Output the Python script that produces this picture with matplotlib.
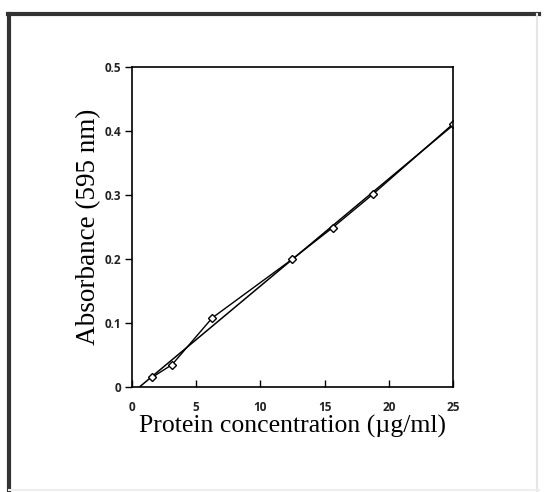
import numpy as np
import matplotlib
matplotlib.use("Agg")
import matplotlib.pyplot as plt
from matplotlib.lines import Line2D

# protein standard curve (Bradford)
conc = [1.5625, 3.125, 6.25, 12.5, 15.625, 18.75, 25]
absorb = [0.015, 0.035, 0.108, 0.200, 0.249, 0.301, 0.411]
xticks = [0, 5, 10, 15, 20, 25]
yticks = [0, 0.1, 0.2, 0.3, 0.4, 0.5]
ytick_labels = ["0", "0.1", "0.2", "0.3", "0.4", "0.5"]

fig = plt.figure(figsize=(5.44, 4.92), dpi=100)

# scanned frame around figure
fig.add_artist(Line2D([0.017, 0.017], [0.0, 0.972], color="#333333", lw=3.0))
fig.add_artist(Line2D([0.015, 0.99], [0.972, 0.972], color="#333333", lw=3.0))
fig.add_artist(Line2D([0.987, 0.987], [0.0, 0.972], color="#e6e6e6", lw=1.5))
fig.add_artist(Line2D([0.017, 0.99], [0.004, 0.004], color="#eeeeee", lw=1.5))

ax = fig.add_axes([0.2426, 0.2134, 0.5901, 0.6504])

# least squares line
slope, icpt = np.polyfit(conc, absorb, 1)
x0 = -icpt / slope
xf = np.array([x0, conc[-1]])
ax.plot(xf, slope * xf + icpt, color="black", lw=1.1)

ax.plot(conc, absorb, color="black", lw=1.0, marker="D", markersize=4.5,
        markerfacecolor="white", markeredgecolor="black", markeredgewidth=1.0)

ax.set_xlim(0, 25)
ax.set_ylim(0, 0.5)
ax.set_xticks(xticks)
ax.set_yticks(yticks)
ax.set_yticklabels(ytick_labels)
for s in ax.spines.values():
    s.set_linewidth(1.2)
ax.tick_params(axis="x", direction="in", length=5, width=1.0, pad=10)
ax.tick_params(axis="y", direction="out", length=5, width=1.0, pad=3)
for lab in ax.get_xticklabels() + ax.get_yticklabels():
    lab.set_fontfamily("Open Sans")
    lab.set_fontweight("bold")
    lab.set_fontsize(8.5)
    lab.set_color("#222222")

ax.set_xlabel("Protein concentration (\u00b5g/ml)", fontfamily="Liberation Serif",
              fontsize=18.5, labelpad=1)
ax.set_ylabel("Absorbance (595 nm)", fontfamily="Liberation Serif",
              fontsize=19.5, labelpad=2)

fig.savefig("out.png", dpi=100)
